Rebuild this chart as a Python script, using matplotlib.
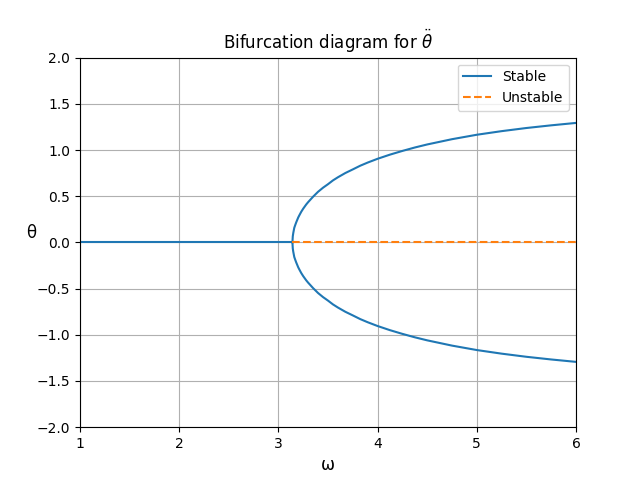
import matplotlib
matplotlib.use('Agg')
import matplotlib.pyplot as plt

# values
omega_flat = [1.0, 3.14]
theta_flat = [0.0, 0.0]

# upper stable branch (lower branch is its mirror)
omega_branch = [3.1416, 3.143, 3.145, 3.15, 3.16, 3.17, 3.18, 3.19, 3.2, 3.21, 3.23, 3.25,
                3.28, 3.3, 3.35, 3.4, 3.45, 3.5, 3.55, 3.6, 3.675, 3.75, 3.825, 3.9, 4.0,
                4.125, 4.25, 4.375, 4.5, 4.75, 5.0, 5.25, 5.5, 5.75, 6.0]
theta_upper = [0.0, 0.03, 0.066, 0.102, 0.158, 0.189, 0.218, 0.244, 0.270, 0.291, 0.331, 0.365,
               0.410, 0.436, 0.495, 0.548, 0.592, 0.63, 0.671, 0.705, 0.751, 0.79, 0.830, 0.864, 0.905,
               0.950, 0.99, 1.027, 1.06, 1.117, 1.165, 1.204, 1.238, 1.267, 1.293]
theta_lower = [-t for t in theta_upper]

omega_unstable = [3.14, 6.0]
theta_unstable = [0.0, 0.0]

fig, ax = plt.subplots(figsize=(6.4, 4.8), dpi=100)

ax.plot(omega_flat, theta_flat, color='C0', label='Stable')
ax.plot(omega_branch, theta_upper, color='C0')
ax.plot(omega_branch, theta_lower, color='C0')
ax.plot(omega_unstable, theta_unstable, color='C1', linestyle='--', label='Unstable')

ax.set_xlim(1, 6)
ax.set_ylim(-2, 2)
ax.set_title(r'Bifurcation diagram for $\ddot{\theta}$')
ax.set_xlabel('ω', fontsize=12)
ax.set_ylabel('θ', fontsize=12, rotation=0)
ax.grid(True)
ax.legend(loc='upper right')

fig.savefig('out.png')
